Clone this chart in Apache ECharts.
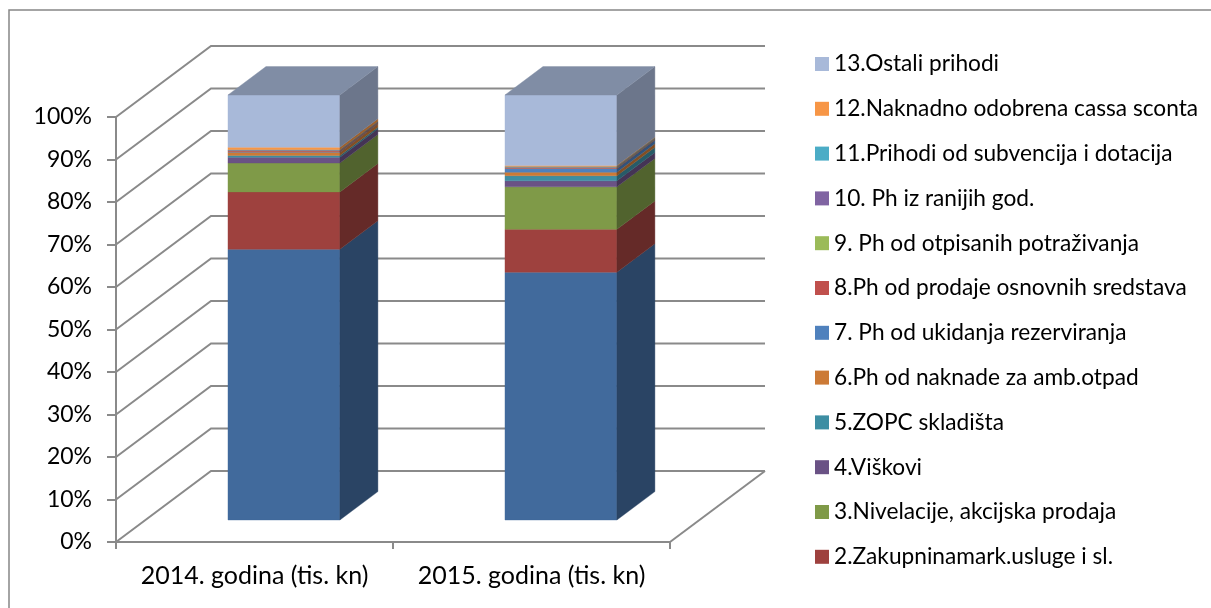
<!DOCTYPE html>
<html><head><meta charset="utf-8">
<script src="https://cdn.jsdelivr.net/npm/echarts@6/dist/echarts.min.js"></script>
<style>html,body{margin:0;padding:0;background:#fff}#c{width:1211px;height:608px}</style>
</head><body><div id="c"></div>
<script>
// ---------------- DATA ----------------
const categories = ['2014. godina (tis. kn)', '2015. godina (tis. kn)'];
const seriesNames = [
  '1.',
  '2.Zakupninamark.usluge i sl.',
  '3.Nivelacije, akcijska prodaja',
  '4.Viškovi',
  '5.ZOPC skladišta',
  '6.Ph od naknade za amb.otpad',
  '7. Ph od ukidanja rezerviranja',
  '8.Ph od prodaje osnovnih sredstava',
  '9. Ph od otpisanih potraživanja',
  '10. Ph iz ranijih god.',
  '11.Prihodi od subvencija i dotacija',
  '12.Naknadno odobrena cassa sconta',
  '13.Ostali prihodi'
];
// share of each series (percent), bottom to top
const values2014 = [63.7, 13.5, 6.8, 1.35, 0.4, 0.8, 0.1, 0.25, 0.05, 0.1, 0.05, 0.6, 12.3];
const values2015 = [58.3, 10.1, 10.0, 1.4, 1.2, 0.85, 0.85, 0.2, 0.1, 0.1, 0.1, 0.2, 16.6];
const yTicks = [0, 10, 20, 30, 40, 50, 60, 70, 80, 90, 100];

// ---------------- STYLE ----------------
const colors = ['#416A9C','#9E413E','#7F9A48','#6A5285','#3D8EA3','#CC7A36','#4F81BD','#C0504D','#9BBB59','#8064A2','#4BACC6','#F79646','#A8B9D9'];
const FONT = 'Lato';
const LINE = '#8a8a8a';
const DX = 95, DY = -71;          // wall depth in px
const BAR_FRONT = 0.31, BAR_DEPTH = 0.40, BAR_W = 0.404;

function shade(hex, k) {
  const n = parseInt(hex.slice(1), 16);
  const r = Math.round(((n >> 16) & 255) * k), g = Math.round(((n >> 8) & 255) * k), b = Math.round((n & 255) * k);
  return 'rgb(' + r + ',' + g + ',' + b + ')';
}

// stacked, normalised to 100%
const allValues = [values2014, values2015];
const totals = allValues.map(a => a.reduce((s, v) => s + v, 0));
const cum = allValues.map(() => 0);

function barRender(params, api) {
  const cat = api.value(0), lo = api.value(1), hi = api.value(2), isTop = api.value(3);
  const a = api.coord([cat, lo]), b = api.coord([cat, hi]);
  const bw = api.size([1, 0])[0] * BAR_W;
  const ox = DX * BAR_FRONT, oy = DY * BAR_FRONT;
  const dx = DX * BAR_DEPTH, dy = DY * BAR_DEPTH;
  const xl = a[0] - bw / 2 + ox, xr = a[0] + bw / 2 + ox;
  const yb = a[1] + oy, yt = b[1] + oy;
  const color = api.visual('color');
  const side = shade(color, 0.64);
  const children = [
    {type: 'rect', shape: {x: xl, y: yt, width: xr - xl, height: yb - yt},
     style: {fill: color, stroke: color, lineWidth: 0.4}},
    {type: 'polygon', shape: {points: [[xr, yt], [xr + dx, yt + dy], [xr + dx, yb + dy], [xr, yb]]},
     style: {fill: side, stroke: side, lineWidth: 0.4}}
  ];
  if (isTop) {
    const top = shade(color, 0.76);
    children.push({type: 'polygon', shape: {points: [[xl, yt], [xl + dx, yt + dy], [xr + dx, yt + dy], [xr, yt]]},
      style: {fill: top, stroke: top, lineWidth: 0.4}});
  }
  return {type: 'group', children: children};
}

function wallRender(params, api) {
  const v = api.value(1);
  const L = api.coord([0, v]), R = api.coord([1, v]);
  const st = {stroke: LINE, lineWidth: 2, fill: null};
  const children = [{type: 'polyline', shape: {points: [[L[0], L[1]], [L[0] + DX, L[1] + DY], [R[0] + DX, R[1] + DY]]}, style: st}];
  if (v === 0) children.push({type: 'polyline', shape: {points: [[R[0], R[1]], [R[0] + DX, R[1] + DY]]}, style: st});
  return {type: 'group', children: children};
}

const series = [{
  type: 'custom', name: '__walls', xAxisIndex: 1, yAxisIndex: 0, z: 1,
  renderItem: wallRender, encode: {x: 0, y: 1}, silent: true,
  data: yTicks.map(v => [0, v])
}];
seriesNames.forEach((name, si) => {
  const data = allValues.map((arr, ci) => {
    const lo = cum[ci] / totals[ci] * 100;
    cum[ci] += arr[si];
    const hi = cum[ci] / totals[ci] * 100;
    return [ci, lo, hi, si === seriesNames.length - 1 ? 1 : 0];
  });
  series.push({
    type: 'custom', name: name, xAxisIndex: 0, yAxisIndex: 0, z: 3,
    itemStyle: {color: colors[si]},
    renderItem: barRender, encode: {x: 0, y: [1, 2]}, data: data
  });
});

const chart = echarts.init(document.getElementById('c'));
chart.setOption({
  animation: false,
  backgroundColor: '#fff',
  textStyle: {fontFamily: FONT},
  graphic: [{type: 'rect', shape: {x: 9, y: 10, width: 1400, height: 800}, style: {fill: null, stroke: '#868686', lineWidth: 1.5}, silent: true}],
  grid: {left: 116, top: 117, width: 554, height: 425, containLabel: false},
  legend: {
    orient: 'vertical', left: 810, top: 47.5, padding: 5, itemWidth: 14, itemHeight: 14, itemGap: 21.8,
    icon: 'rect', selectedMode: false,
    data: seriesNames.slice(1).reverse(),
    textStyle: {fontFamily: FONT, fontSize: 22.7, color: '#000', lineHeight: 23}
  },
  xAxis: [{
    type: 'category', data: categories, boundaryGap: true,
    axisLine: {lineStyle: {color: LINE, width: 2}},
    axisTick: {show: true, alignWithLabel: false, length: 7, lineStyle: {color: LINE, width: 2}},
    axisLabel: {fontFamily: FONT, fontSize: 25, color: '#000', margin: 21, interval: 0},
    splitLine: {show: false}
  }, {
    type: 'value', min: 0, max: 1, show: false
  }],
  yAxis: {
    type: 'value', min: 0, max: 100, interval: 10,
    axisLine: {show: true, lineStyle: {color: LINE, width: 2}},
    axisTick: {show: true, length: 9, lineStyle: {color: LINE, width: 2}},
    axisLabel: {fontFamily: FONT, fontSize: 23, color: '#000', margin: 24, formatter: '{value}%'},
    splitLine: {show: false}
  },
  series: series
});
</script></body></html>
